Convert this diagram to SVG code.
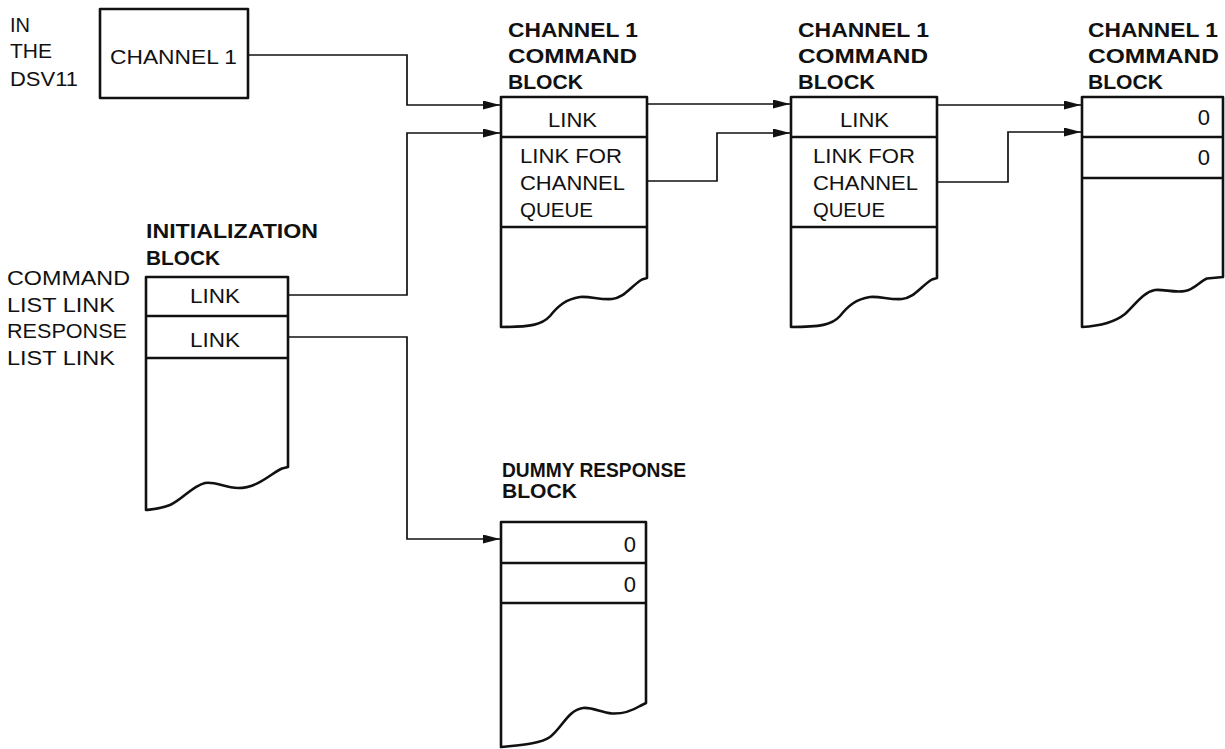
<svg xmlns="http://www.w3.org/2000/svg" width="1225" height="749" viewBox="0 0 1225 749">
<style>
.blk{fill:#fff;stroke:#111;stroke-width:2.6;stroke-linejoin:round}
.div{stroke:#111;stroke-width:2.6;fill:none}
.con{stroke:#111;stroke-width:1.7;fill:none}
.t{font-family:"Liberation Sans",Arial,sans-serif;font-size:20px;fill:#111}
.b{font-family:"Liberation Sans",Arial,sans-serif;font-size:20px;font-weight:bold;fill:#111}
.z{font-family:"Liberation Sans",Arial,sans-serif;font-size:22px;fill:#111;text-anchor:end}
</style>
<defs>
<marker id="ah" markerUnits="userSpaceOnUse" markerWidth="18" markerHeight="10" refX="17" refY="4.5" orient="auto">
<path d="M0,0 L17,4.5 L0,9 Z" fill="#111"/>
</marker>
</defs>
<rect width="1225" height="749" fill="#fff"/>

<g id="dsv11-labels">
<text class="t" x="10" y="32" textLength="20" lengthAdjust="spacingAndGlyphs">IN</text>
<text class="t" x="10" y="58" textLength="42" lengthAdjust="spacingAndGlyphs">THE</text>
<text class="t" x="10" y="86" textLength="68" lengthAdjust="spacingAndGlyphs">DSV11</text>
</g>

<g id="channel1">
<rect class="blk" x="100" y="9" width="148" height="89"/>
<text class="t" x="110" y="64" font-size="22" textLength="127" lengthAdjust="spacingAndGlyphs">CHANNEL 1</text>
</g>

<g id="cmd-block-1">
<text class="b" x="508" y="37" textLength="130" lengthAdjust="spacingAndGlyphs">CHANNEL 1</text>
<text class="b" x="508" y="63" textLength="129" lengthAdjust="spacingAndGlyphs">COMMAND</text>
<text class="b" x="508" y="89" textLength="75" lengthAdjust="spacingAndGlyphs">BLOCK</text>
<path class="blk" d="M501,97 H647 V278 L642,279.5 C630,287 624,298 612,299 C600,300 590,296 580,297 C566,299 558,306 550,316 C542,325 530,327 501,327 Z"/>
<path class="div" d="M501,137 H647 M501,227 H647"/>
<text class="t" x="548" y="127" textLength="49" lengthAdjust="spacingAndGlyphs">LINK</text>
<text class="t" x="520" y="163" textLength="102" lengthAdjust="spacingAndGlyphs">LINK FOR</text>
<text class="t" x="520" y="190" textLength="105" lengthAdjust="spacingAndGlyphs">CHANNEL</text>
<text class="t" x="520" y="217" textLength="73" lengthAdjust="spacingAndGlyphs">QUEUE</text>
</g>

<g id="cmd-block-2">
<text class="b" x="798" y="37" textLength="131" lengthAdjust="spacingAndGlyphs">CHANNEL 1</text>
<text class="b" x="798" y="63" textLength="130" lengthAdjust="spacingAndGlyphs">COMMAND</text>
<text class="b" x="798" y="89" textLength="77" lengthAdjust="spacingAndGlyphs">BLOCK</text>
<path class="blk" d="M791,97 H937 V278 L932,279.5 C920,287 914,298 902,299 C890,300 880,296 870,297 C856,299 848,306 840,316 C832,325 820,327 791,327 Z"/>
<path class="div" d="M791,137 H937 M791,227 H937"/>
<text class="t" x="840" y="127" textLength="49" lengthAdjust="spacingAndGlyphs">LINK</text>
<text class="t" x="813" y="163" textLength="102" lengthAdjust="spacingAndGlyphs">LINK FOR</text>
<text class="t" x="813" y="190" textLength="105" lengthAdjust="spacingAndGlyphs">CHANNEL</text>
<text class="t" x="813" y="217" textLength="72" lengthAdjust="spacingAndGlyphs">QUEUE</text>
</g>

<g id="cmd-block-3">
<text class="b" x="1088" y="37" textLength="130" lengthAdjust="spacingAndGlyphs">CHANNEL 1</text>
<text class="b" x="1088" y="63" textLength="131" lengthAdjust="spacingAndGlyphs">COMMAND</text>
<text class="b" x="1088" y="89" textLength="75" lengthAdjust="spacingAndGlyphs">BLOCK</text>
<path class="blk" d="M1082,97 H1223 V277 L1207,278.5 C1200,281 1195,289 1185,291 C1175,293 1163,289 1155,290 C1143,292 1135,305 1125,314 C1115,322 1100,326 1082,327 Z"/>
<path class="div" d="M1082,137 H1223 M1082,178 H1223"/>
<text class="z" x="1210" y="125">0</text>
<text class="z" x="1210" y="165">0</text>
</g>

<g id="init-block">
<text class="b" x="146" y="238" textLength="172" lengthAdjust="spacingAndGlyphs">INITIALIZATION</text>
<text class="b" x="146" y="265" textLength="74" lengthAdjust="spacingAndGlyphs">BLOCK</text>
<path class="blk" d="M146,277 H288 V467 L282,468.5 C270,474 258,488 238,488 C225,488 215,481 205,483 C192,486 182,500 170,505 C160,509 155,509 146,510 Z"/>
<path class="div" d="M146,316 H288 M146,358 H288"/>
<text class="t" x="190" y="303" textLength="50" lengthAdjust="spacingAndGlyphs">LINK</text>
<text class="t" x="190" y="347" textLength="50" lengthAdjust="spacingAndGlyphs">LINK</text>
</g>

<g id="init-labels">
<text class="t" x="7" y="285" textLength="123" lengthAdjust="spacingAndGlyphs">COMMAND</text>
<text class="t" x="7" y="312" textLength="108" lengthAdjust="spacingAndGlyphs">LIST LINK</text>
<text class="t" x="7" y="338" textLength="120" lengthAdjust="spacingAndGlyphs">RESPONSE</text>
<text class="t" x="7" y="365" textLength="108" lengthAdjust="spacingAndGlyphs">LIST LINK</text>
</g>

<g id="dummy-block">
<text class="b" x="502" y="477" textLength="184" lengthAdjust="spacingAndGlyphs">DUMMY RESPONSE</text>
<text class="b" x="502" y="498" textLength="75" lengthAdjust="spacingAndGlyphs">BLOCK</text>
<path class="blk" d="M501,522 H646 V703 L640,706 C630,712 622,714 612,713.5 C600,712 592,707 583,708 C568,710 562,728 550,737 C540,744 520,745 501,747 Z"/>
<path class="div" d="M501,563 H646 M501,603 H646"/>
<text class="z" x="636" y="552">0</text>
<text class="z" x="636" y="592">0</text>
</g>

<g id="connectors">
<path class="con" d="M248,55 H407 V105 H500" marker-end="url(#ah)"/>
<path class="con" d="M288,295 H407 V133 H500" marker-end="url(#ah)"/>
<path class="con" d="M288,337 H407 V539 H500" marker-end="url(#ah)"/>
<path class="con" d="M647,104 H790" marker-end="url(#ah)"/>
<path class="con" d="M647,181 H717 V133 H790" marker-end="url(#ah)"/>
<path class="con" d="M937,105 H1081" marker-end="url(#ah)"/>
<path class="con" d="M937,182 H1008 V132 H1081" marker-end="url(#ah)"/>
</g>
</svg>
